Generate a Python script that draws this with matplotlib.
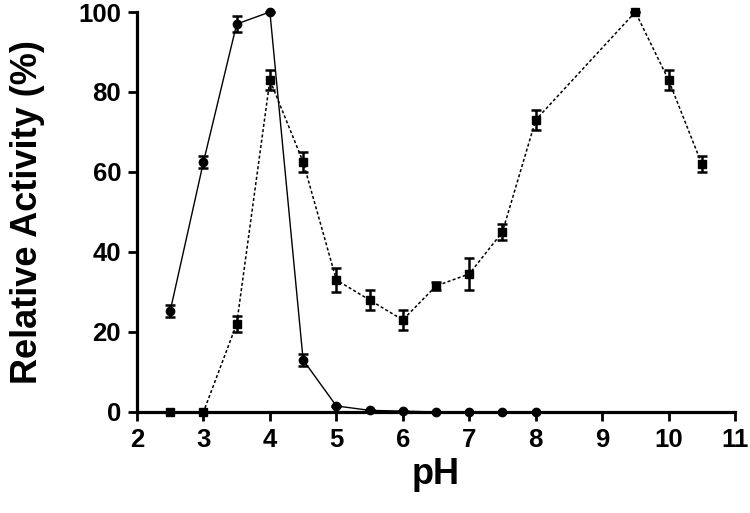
import matplotlib.pyplot as plt

plt.rcParams['font.family'] = ['Liberation Sans', 'DejaVu Sans']
plt.rcParams['font.weight'] = 'bold'

# circles, solid line
ph_a = [2.5, 3, 3.5, 4, 4.5, 5, 5.5, 6, 6.5, 7, 7.5, 8]
act_a = [25.3, 62.5, 97, 100, 13, 1.5, 0.4, 0.2, 0, 0, 0, 0]
err_a = [1.5, 1.5, 2, 0, 1.5, 0, 0, 0, 0, 0, 0, 0]

# squares, dashed line
ph_b = [2.5, 3, 3.5, 4, 4.5, 5, 5.5, 6, 6.5, 7, 7.5, 8, 9.5, 10, 10.5]
act_b = [0, 0, 22, 83, 62.5, 33, 28, 23, 31.5, 34.5, 45, 73, 100, 83, 62]
err_b = [0, 0, 2, 2.5, 2.5, 3, 2.5, 2.5, 1, 4, 2, 2.5, 0, 2.5, 2]

fig = plt.figure(figsize=(7.5, 5.13), dpi=100)
ax = fig.add_axes([0.1827, 0.197, 0.7973, 0.7796])

ax.errorbar(ph_a, act_a, yerr=err_a, fmt='-o', color='black', lw=1,
            ms=6, capsize=3.5, elinewidth=1.8, capthick=1.8, clip_on=False, zorder=3)
ax.errorbar(ph_b, act_b, yerr=err_b, fmt='s', ls=(0, (2, 1.5)), color='black', lw=1.1,
            ms=6, capsize=3.5, elinewidth=1.8, capthick=1.8, clip_on=False, zorder=3)

ax.set_xlim(2, 11)
ax.set_ylim(0, 100)
ax.set_xticks(range(2, 12))
ax.set_yticks(range(0, 101, 20))
for s in ['top', 'right']:
    ax.spines[s].set_visible(False)
for s in ['left', 'bottom']:
    ax.spines[s].set_linewidth(2.3)
ax.tick_params(width=2, length=6.5, labelsize=18.5, direction='out', pad=5)
for lab in ax.get_xticklabels() + ax.get_yticklabels():
    lab.set_fontweight('bold')

ax.set_xlabel('pH', fontsize=26, fontweight='bold', labelpad=4)
ax.set_ylabel('Relative Activity (%)', fontsize=26, fontweight='bold', labelpad=24)

fig.savefig('out.png', dpi=100)
